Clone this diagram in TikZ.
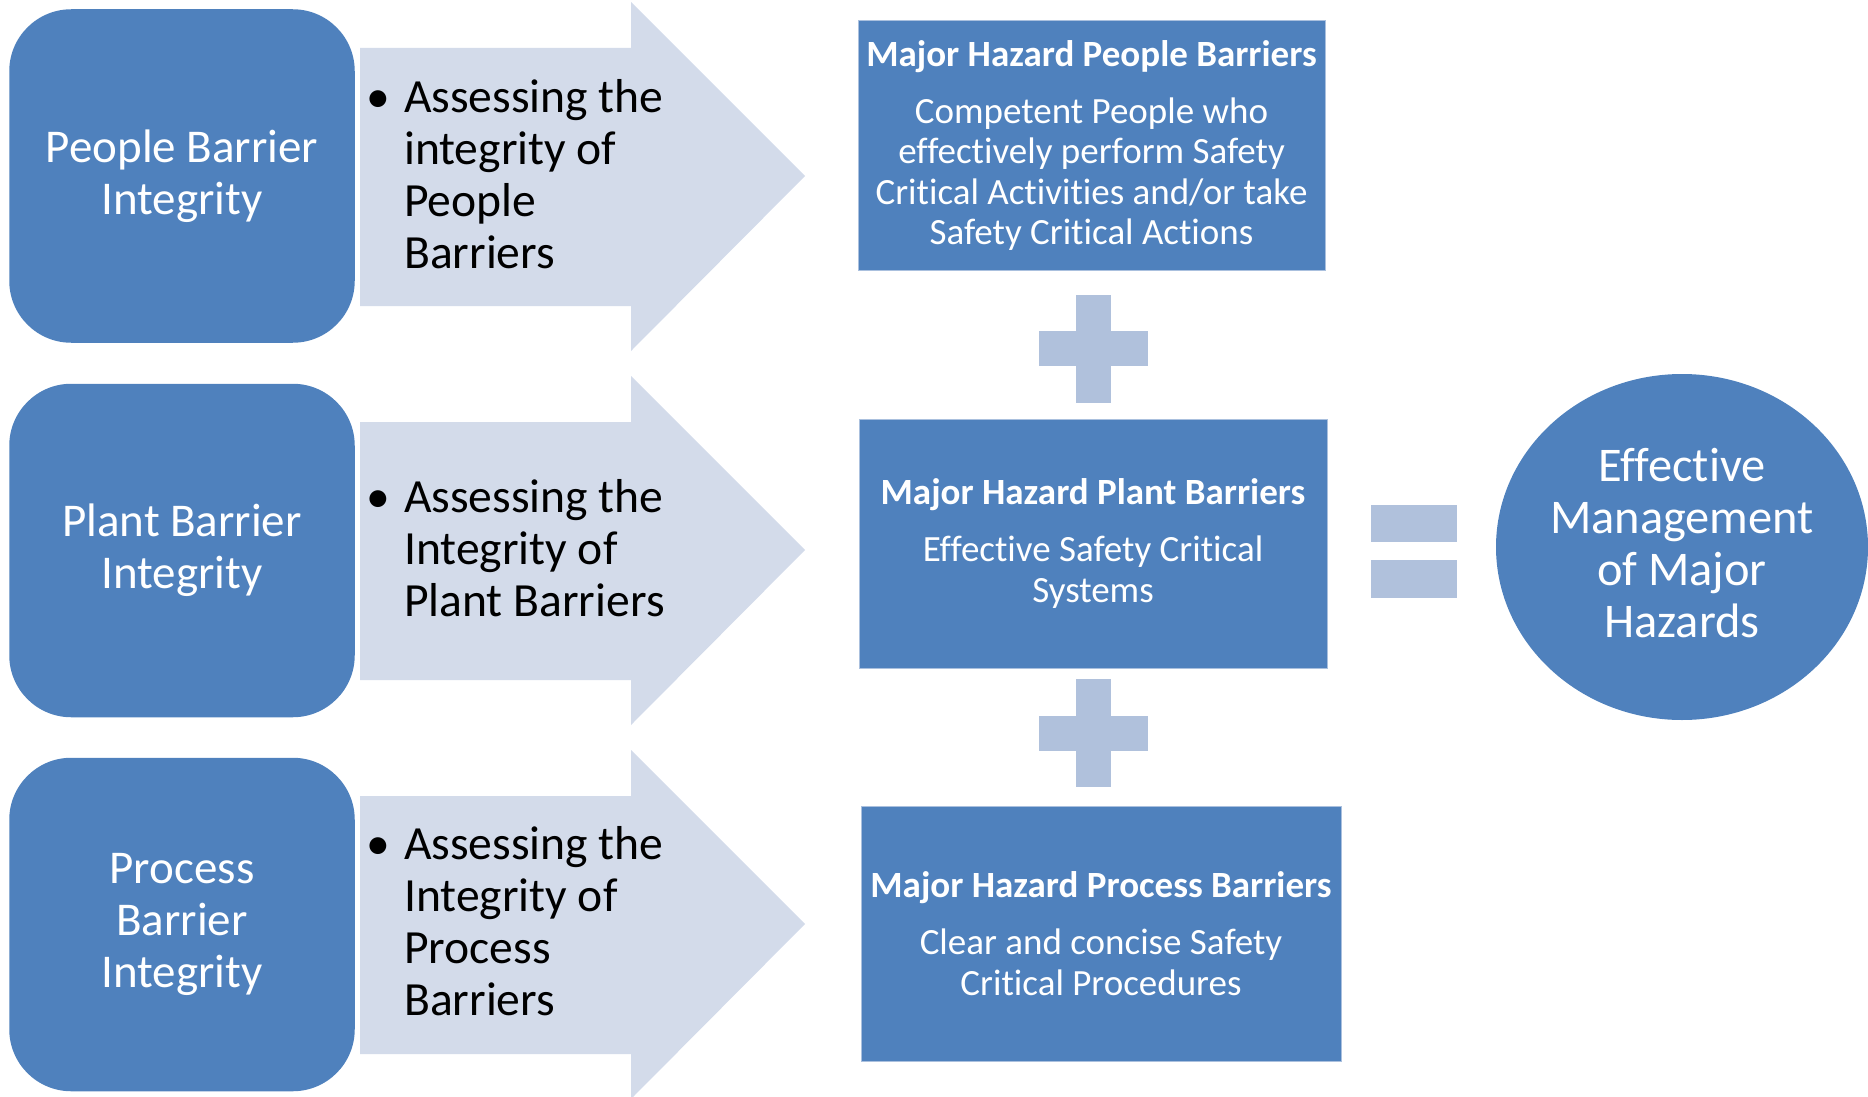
\documentclass[tikz,border=0pt]{standalone}
\usepackage{fontspec}
\setmainfont{Carlito}[Ligatures=CommonOff,RawFeature={-liga,-clig,-calt,-dlig}]
\usetikzlibrary{shapes.geometric}
\definecolor{dblue}{RGB}{79,129,189}
\definecolor{larrow}{RGB}{211,219,234}
\definecolor{lplus}{RGB}{176,193,220}
\definecolor{rborder}{RGB}{170,192,222}
\begin{document}
\begin{tikzpicture}[x=0.5pt,y=-0.5pt,
  leftbox/.style={fill=dblue, rounded corners=31pt, minimum width=172.75pt, minimum height=166.75pt, text=white, align=center, inner sep=0pt, font=\fontsize{23.5}{26}\selectfont},
  hazbox/.style={fill=dblue, draw=rborder, line width=0.5pt, text=white, align=center, inner sep=0pt, font=\fontsize{18.5}{20.25}\selectfont},
  arrowtxt/.style={anchor=west, inner sep=0pt, text=black, font=\fontsize{23.8}{26}\selectfont},
  bigarrow/.style={fill=larrow},
  plusbar/.style={fill=lplus, draw=none},
  resultell/.style={ellipse, fill=dblue, text=white, align=center, inner sep=0pt, minimum width=186pt, minimum height=173pt, font=\fontsize{24.2}{26}\selectfont}
]
\useasboundingbox (0,0) rectangle (1868,1097);

% arrows
\foreach \dy/\nm in {0/a1,374/a2,748/a3}{
  \fill[bigarrow] (360,48+\dy) -- (631,48+\dy) -- (631,2+\dy) -- (805,176+\dy) -- (631,351+\dy) -- (631,306+\dy) -- (360,306+\dy) -- cycle;
}

% left boxes
\node[leftbox] (pb) at (182,176) {People Barrier\\Integrity};
\node[leftbox] (plb) at (182,550.5) {Plant Barrier\\Integrity};
\node[leftbox] (prb) at (182,924.5) {Process\\Barrier\\Integrity};

% arrow texts
\node[arrowtxt] (t1) at (366,180) {\begin{tabular}{@{}l@{\hspace{7pt}}l@{}}•&Assessing the\\&integrity of\\&People\\&Barriers\end{tabular}};
\node[arrowtxt] (t2) at (366,554) {\begin{tabular}{@{}l@{\hspace{7pt}}l@{}}•&Assessing the\\&Integrity of\\&Plant Barriers\end{tabular}};
\node[arrowtxt] (t3) at (366,927) {\begin{tabular}{@{}l@{\hspace{7pt}}l@{}}•&Assessing the\\&Integrity of\\&Process\\&Barriers\end{tabular}};

% hazard boxes
\node[hazbox, minimum width=233.5pt, minimum height=124.5pt] (h1) at (1091.5,145.5) {\textbf{Major Hazard People Barriers}\\[8.25pt]Competent People who\\effectively perform Safety\\Critical Activities and/or take\\Safety Critical Actions};
\node[hazbox, minimum width=234pt, minimum height=124.5pt] (h2) at (1093,543.5) {\textbf{Major Hazard Plant Barriers}\\[8.25pt]Effective Safety Critical\\Systems};
\node[hazbox, minimum width=240pt, minimum height=127.5pt] (h3) at (1101,933.5) {\textbf{Major Hazard Process Barriers}\\[8.25pt]Clear and concise Safety\\Critical Procedures};

% plus signs
\foreach \cy/\nm in {348.5/p1,733/p2}{
  \fill[plusbar] (1076,\cy-54) rectangle (1111,\cy+54);
  \fill[plusbar] (1039,\cy-17.5) rectangle (1148,\cy+17.5);
}

% equals sign
\fill[plusbar] (1371,505) rectangle (1457,542);
\fill[plusbar] (1371,560) rectangle (1457,598);

% result
\node[resultell] (res) at (1682,547) {};
\node[text=white, align=center, inner sep=0pt, font=\fontsize{24.2}{26}\selectfont] (restxt) at (1682,543) {Effective\\Management\\of Major\\Hazards};
\end{tikzpicture}
\end{document}
